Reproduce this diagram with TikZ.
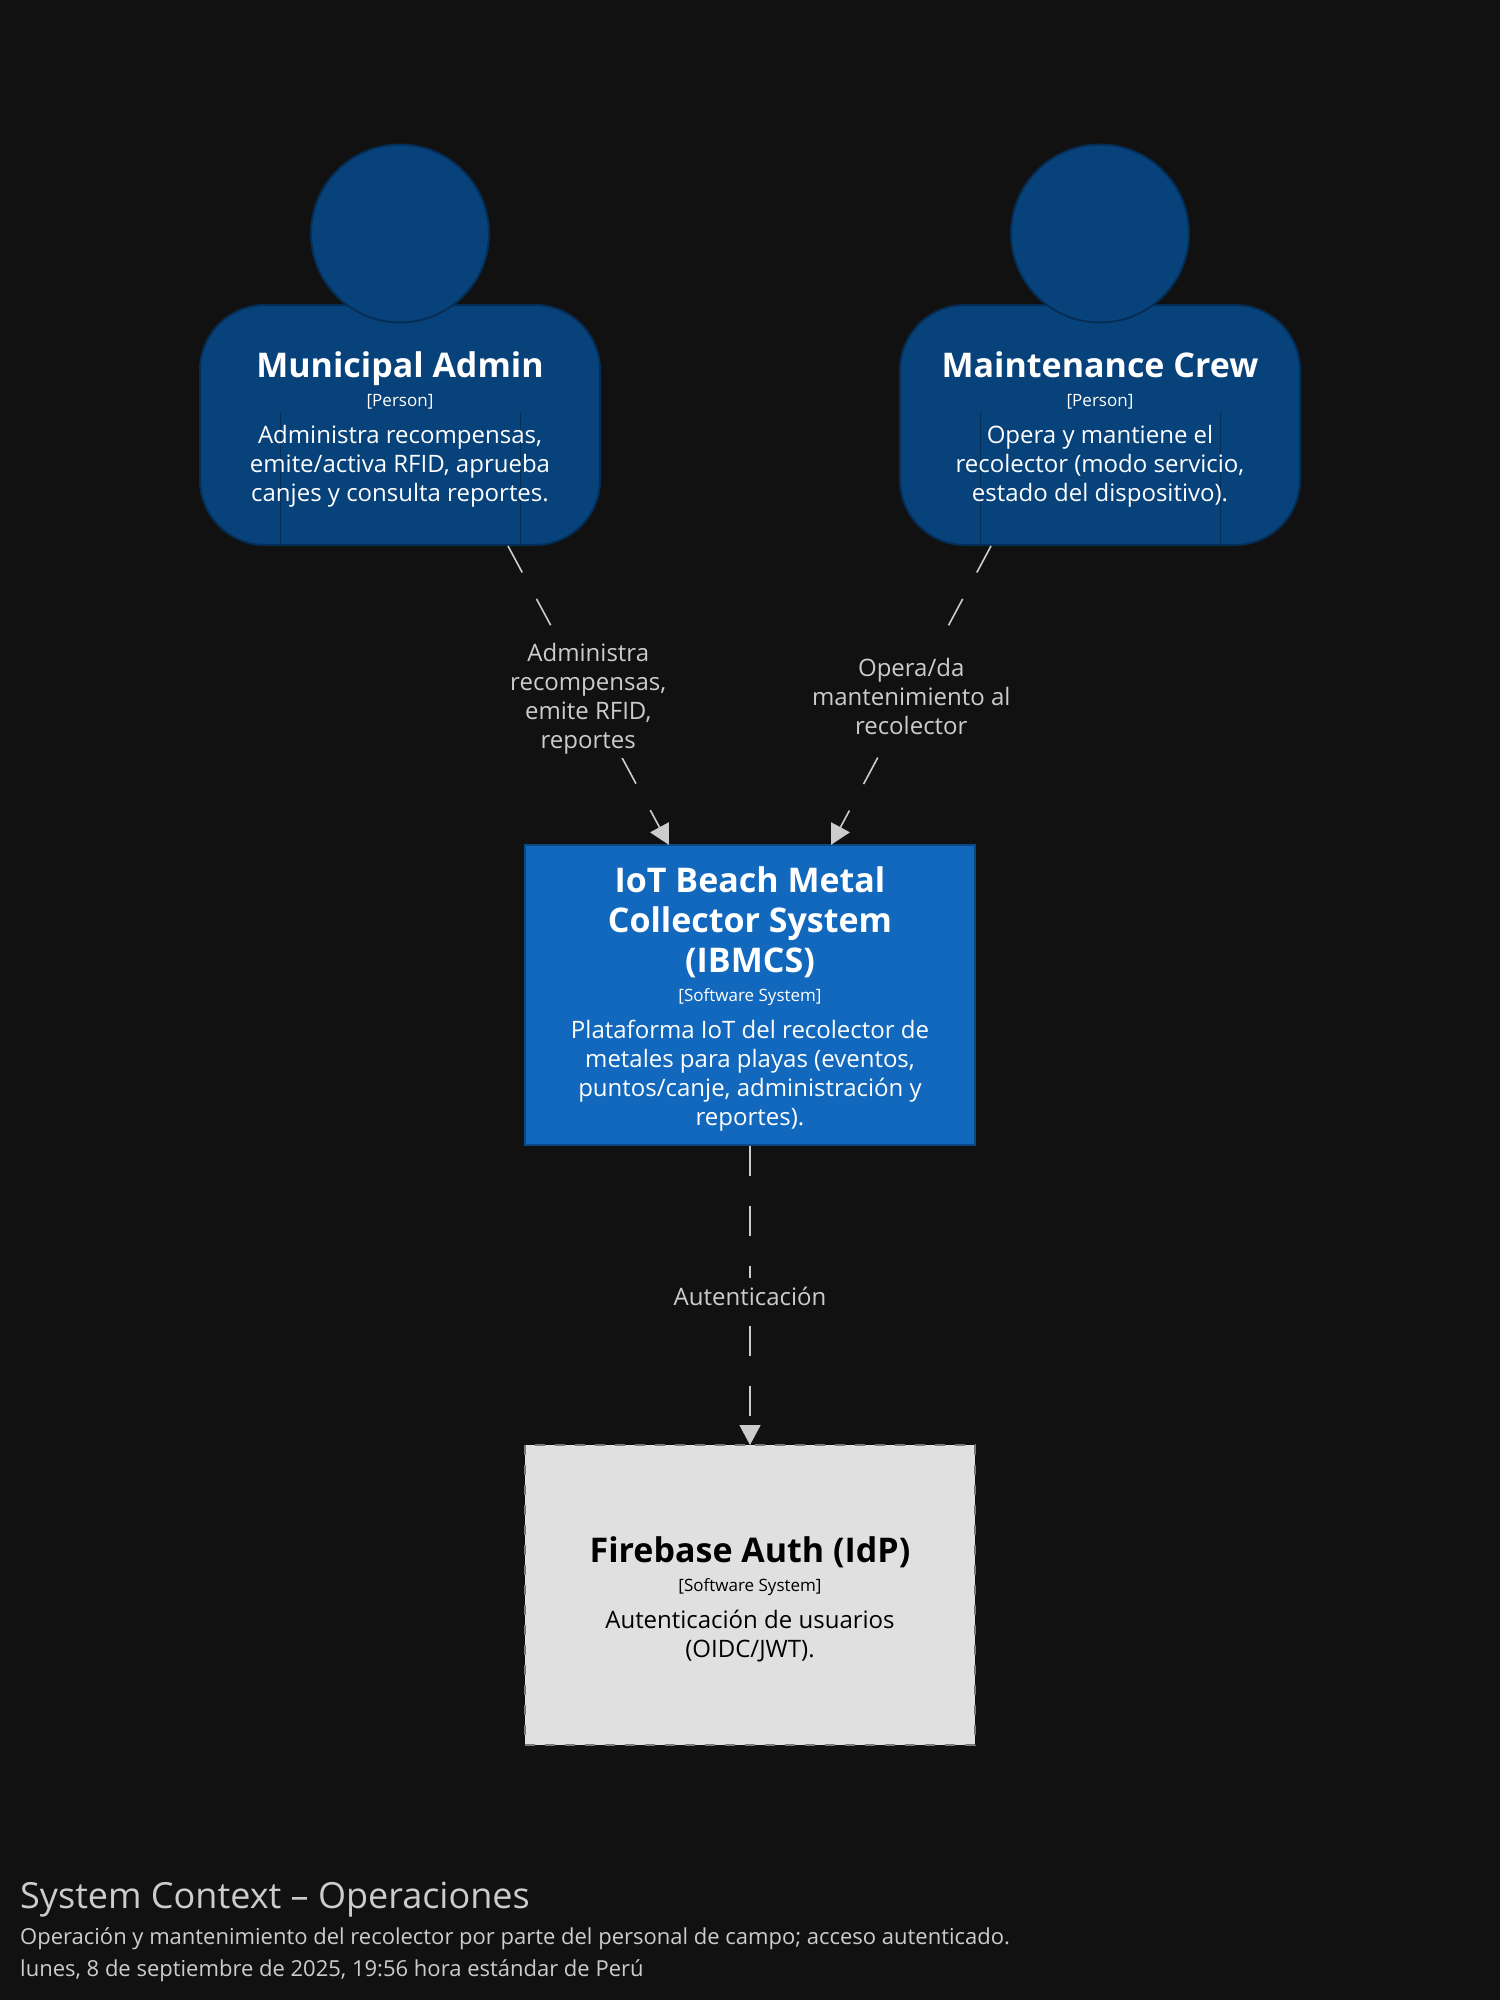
\documentclass[tikz,border=0pt]{standalone}
\usepackage{fontspec}
\setmainfont{Open Sans}
\usetikzlibrary{arrows.meta}
\definecolor{pagebg}{HTML}{111111}
\definecolor{personfill}{HTML}{08427B}
\definecolor{personline}{HTML}{052E56}
\definecolor{systemfill}{HTML}{1168BD}
\definecolor{systemline}{HTML}{0B4884}
\definecolor{extfill}{HTML}{E0E0E0}
\definecolor{extline}{HTML}{7A7A7A}
\definecolor{relcolor}{HTML}{CCCCCC}
\newcommand{\elemtext}[3]{%
  \vskip -6pt
  {\fontsize{34}{40}\selectfont\bfseries #1\par}%
  {\fontsize{17}{29}\selectfont [#2]\par}%
  \vskip 8pt
  {\fontsize{24}{29}\selectfont #3\par}}
\tikzset{
  personbody/.style={draw=personline, fill=personfill, line width=2pt, text=white,
    rounded corners=65pt, inner sep=0pt, text width=400pt, minimum height=240pt, align=flush center,
    path picture={
      \draw[personline, line width=1pt] ([xshift=-120pt]path picture bounding box.south) -- +(0pt,133pt);
      \draw[personline, line width=1pt] ([xshift=120pt]path picture bounding box.south) -- +(0pt,133pt);
    }},
  personhead/.style={draw=personline, fill=personfill, line width=2pt, circle, inner sep=0pt, minimum size=178pt},
  system/.style={draw=systemline, fill=systemfill, line width=2pt, text=white,
    inner sep=0pt, text width=450pt, minimum height=300pt, align=flush center},
  extsystem/.style={draw=extline, dash pattern=on 10pt off 10pt, fill=extfill, line width=2pt, text=black,
    inner sep=0pt, text width=450pt, minimum height=300pt, align=flush center},
  rel/.style={draw=relcolor, line width=1.6pt, dash pattern=on 30pt off 30pt, shorten >=-1pt,
    -{Triangle[length=20pt,width=21pt,fill=relcolor]}},
  rellabel/.style={fill=pagebg, text=relcolor, inner xsep=2pt, inner ysep=6pt, align=center, minimum height=36pt,
    font=\fontsize{24}{29}\selectfont},
  footer/.style={anchor=base west, text=relcolor, inner sep=0pt}
}
\begin{document}
\begin{tikzpicture}[x=1pt,y=-1pt]
  % Background
  \fill[pagebg] (0,0) rectangle (1500,2000);
  \useasboundingbox (0,0) rectangle (1500,2000);

  % People
  \node[personbody] (admin) at (400,425) {\elemtext{Municipal Admin}{Person}{Administra recompensas,\\ emite/activa RFID, aprueba\\ canjes y consulta reportes.}};
  \node[personhead] (adminhead) at (400,233.5) {};
  \node[personbody] (crew) at (1100,425) {\elemtext{Maintenance Crew}{Person}{Opera y mantiene el\\ recolector (modo servicio,\\ estado del dispositivo).}};
  \node[personhead] (crewhead) at (1100,233.5) {};

  % Systems
  \node[system] (ibmcs) at (750,995) {\elemtext{IoT Beach Metal\\ Collector System\\ (IBMCS)}{Software System}{Plataforma IoT del recolector de\\ metales para playas (eventos,\\ puntos/canje, administración y\\ reportes).}};
  \node[extsystem] (firebase) at (750,1595) {\elemtext{Firebase Auth (IdP)}{Software System}{Autenticación de usuarios\\ (OIDC/JWT).}};

  % Relationships
  \draw[rel] ([xshift=108pt]admin.south) -- node[rellabel, yshift=-4pt, inner ysep=3pt] (adminrel) {Administra\\ recompensas,\\ emite RFID,\\ reportes} ([xshift=-81.5pt]ibmcs.north);
  \draw[rel] ([xshift=-109pt]crew.south) -- node[rellabel, yshift=-1.5pt, inner ysep=10pt] (crewrel) {Opera/da\\ mantenimiento al\\ recolector} ([xshift=81.5pt]ibmcs.north);
  \draw[rel] (ibmcs.south) -- node[rellabel, yshift=-1pt] (authrel) {Autenticación} (firebase.north);

  % Footer
  \node[footer, font=\fontsize{36}{43}\selectfont] (title) at (20,1908) {System Context – Operaciones};
  \node[footer, font=\fontsize{22}{27}\selectfont] (subtitle) at (20,1944) {Operación y mantenimiento del recolector por parte del personal de campo; acceso autenticado.};
  \node[footer, font=\fontsize{22}{27}\selectfont] (date) at (20,1976) {lunes, 8 de septiembre de 2025, 19:56 hora estándar de Perú};
\end{tikzpicture}
\end{document}
